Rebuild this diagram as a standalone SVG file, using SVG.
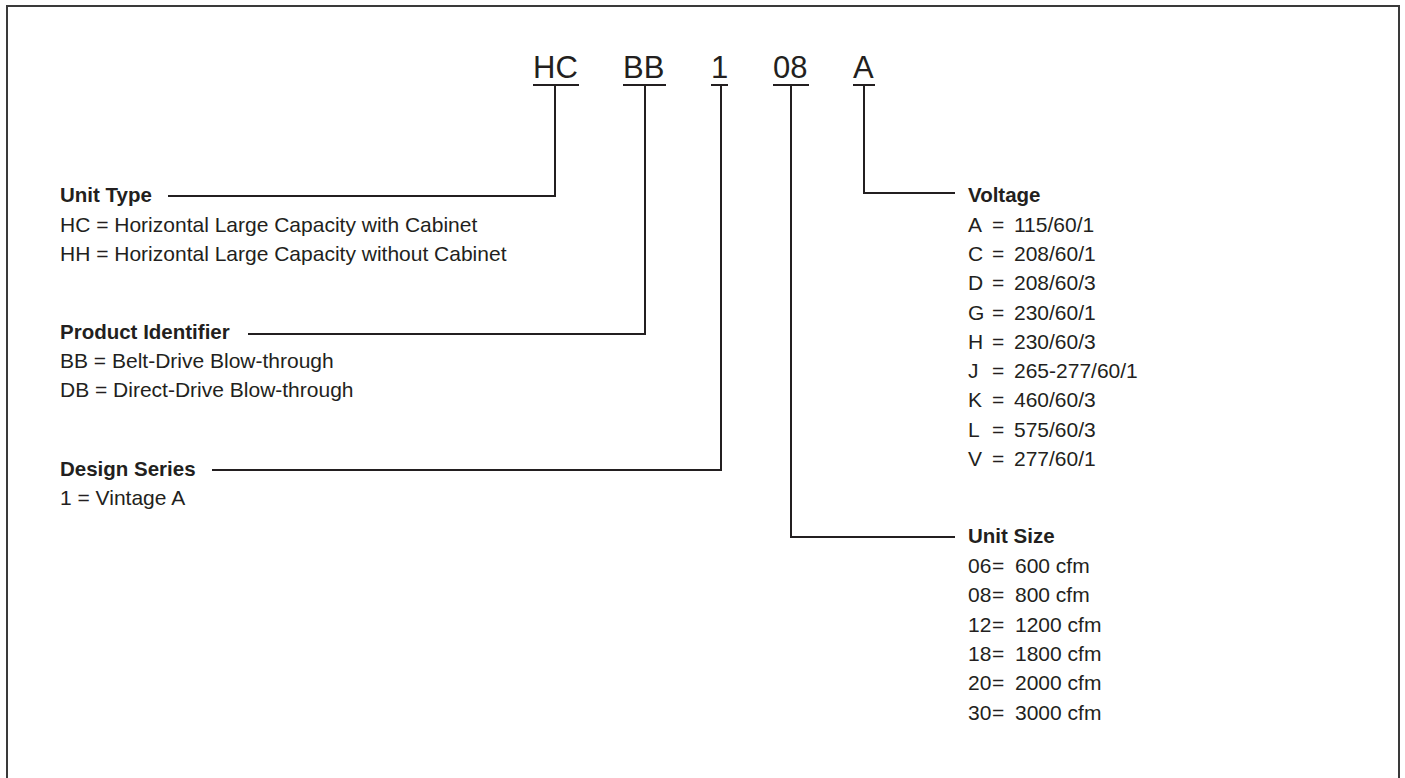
<svg xmlns="http://www.w3.org/2000/svg" width="1405" height="778" viewBox="0 0 1405 778">
<style>
text{font-family:"Liberation Sans",Arial,sans-serif;fill:#231f20}
.code{font-size:31px}
.h{font-size:20.5px;font-weight:bold}
.b{font-size:21px}
.ln{fill:none;stroke:#231f20;stroke-width:2}
.frame{fill:none;stroke:#3a3a3a;stroke-width:2}
</style>
<rect width="1405" height="778" fill="#fff"/>
<path class="frame" d="M7,778 V6 H1399 V778"/>
<g id="code">
<text class="code" x="533" y="78">HC</text>
<text class="code" x="623" y="78">BB</text>
<text class="code" x="711" y="78">1</text>
<text class="code" x="773" y="78">08</text>
<text class="code" x="853" y="78">A</text>
</g>
<g id="connectors">
<path class="ln" d="M533,85 H579 M623,85 H666 M711,85 H728 M773,85 H809 M853,85 H875"/>
<path class="ln" d="M555,85 V196 H168"/>
<path class="ln" d="M645,85 V334 H248"/>
<path class="ln" d="M721,85 V470 H212"/>
<path class="ln" d="M791,85 V537 H955"/>
<path class="ln" d="M864,85 V193 H955"/>
</g>
<g id="unit-type">
<text class="h" x="60" y="202">Unit Type</text>
<text class="b" x="60" y="232">HC = Horizontal Large Capacity with Cabinet</text>
<text class="b" x="60" y="261">HH = Horizontal Large Capacity without Cabinet</text>
</g>
<g id="product-identifier">
<text class="h" x="60" y="339">Product Identifier</text>
<text class="b" x="60" y="368">BB = Belt-Drive Blow-through</text>
<text class="b" x="60" y="397">DB = Direct-Drive Blow-through</text>
</g>
<g id="design-series">
<text class="h" x="60" y="476">Design Series</text>
<text class="b" x="60" y="505">1 = Vintage A</text>
</g>
<g id="voltage">
<text class="h" x="968" y="202">Voltage</text>
<text class="b" y="232"><tspan x="968">A</tspan><tspan x="992">=</tspan><tspan x="1014">115/60/1</tspan></text>
<text class="b" y="261"><tspan x="968">C</tspan><tspan x="992">=</tspan><tspan x="1014">208/60/1</tspan></text>
<text class="b" y="290"><tspan x="968">D</tspan><tspan x="992">=</tspan><tspan x="1014">208/60/3</tspan></text>
<text class="b" y="320"><tspan x="968">G</tspan><tspan x="992">=</tspan><tspan x="1014">230/60/1</tspan></text>
<text class="b" y="349"><tspan x="968">H</tspan><tspan x="992">=</tspan><tspan x="1014">230/60/3</tspan></text>
<text class="b" y="378"><tspan x="968">J</tspan><tspan x="992">=</tspan><tspan x="1014">265-277/60/1</tspan></text>
<text class="b" y="407"><tspan x="968">K</tspan><tspan x="992">=</tspan><tspan x="1014">460/60/3</tspan></text>
<text class="b" y="437"><tspan x="968">L</tspan><tspan x="992">=</tspan><tspan x="1014">575/60/3</tspan></text>
<text class="b" y="466"><tspan x="968">V</tspan><tspan x="992">=</tspan><tspan x="1014">277/60/1</tspan></text>
</g>
<g id="unit-size">
<text class="h" x="968" y="543">Unit Size</text>
<text class="b" y="573"><tspan x="968">06</tspan><tspan x="992">=</tspan><tspan x="1015">600 cfm</tspan></text>
<text class="b" y="602"><tspan x="968">08</tspan><tspan x="992">=</tspan><tspan x="1015">800 cfm</tspan></text>
<text class="b" y="632"><tspan x="968">12</tspan><tspan x="992">=</tspan><tspan x="1015">1200 cfm</tspan></text>
<text class="b" y="661"><tspan x="968">18</tspan><tspan x="992">=</tspan><tspan x="1015">1800 cfm</tspan></text>
<text class="b" y="690"><tspan x="968">20</tspan><tspan x="992">=</tspan><tspan x="1015">2000 cfm</tspan></text>
<text class="b" y="720"><tspan x="968">30</tspan><tspan x="992">=</tspan><tspan x="1015">3000 cfm</tspan></text>
</g>
</svg>
